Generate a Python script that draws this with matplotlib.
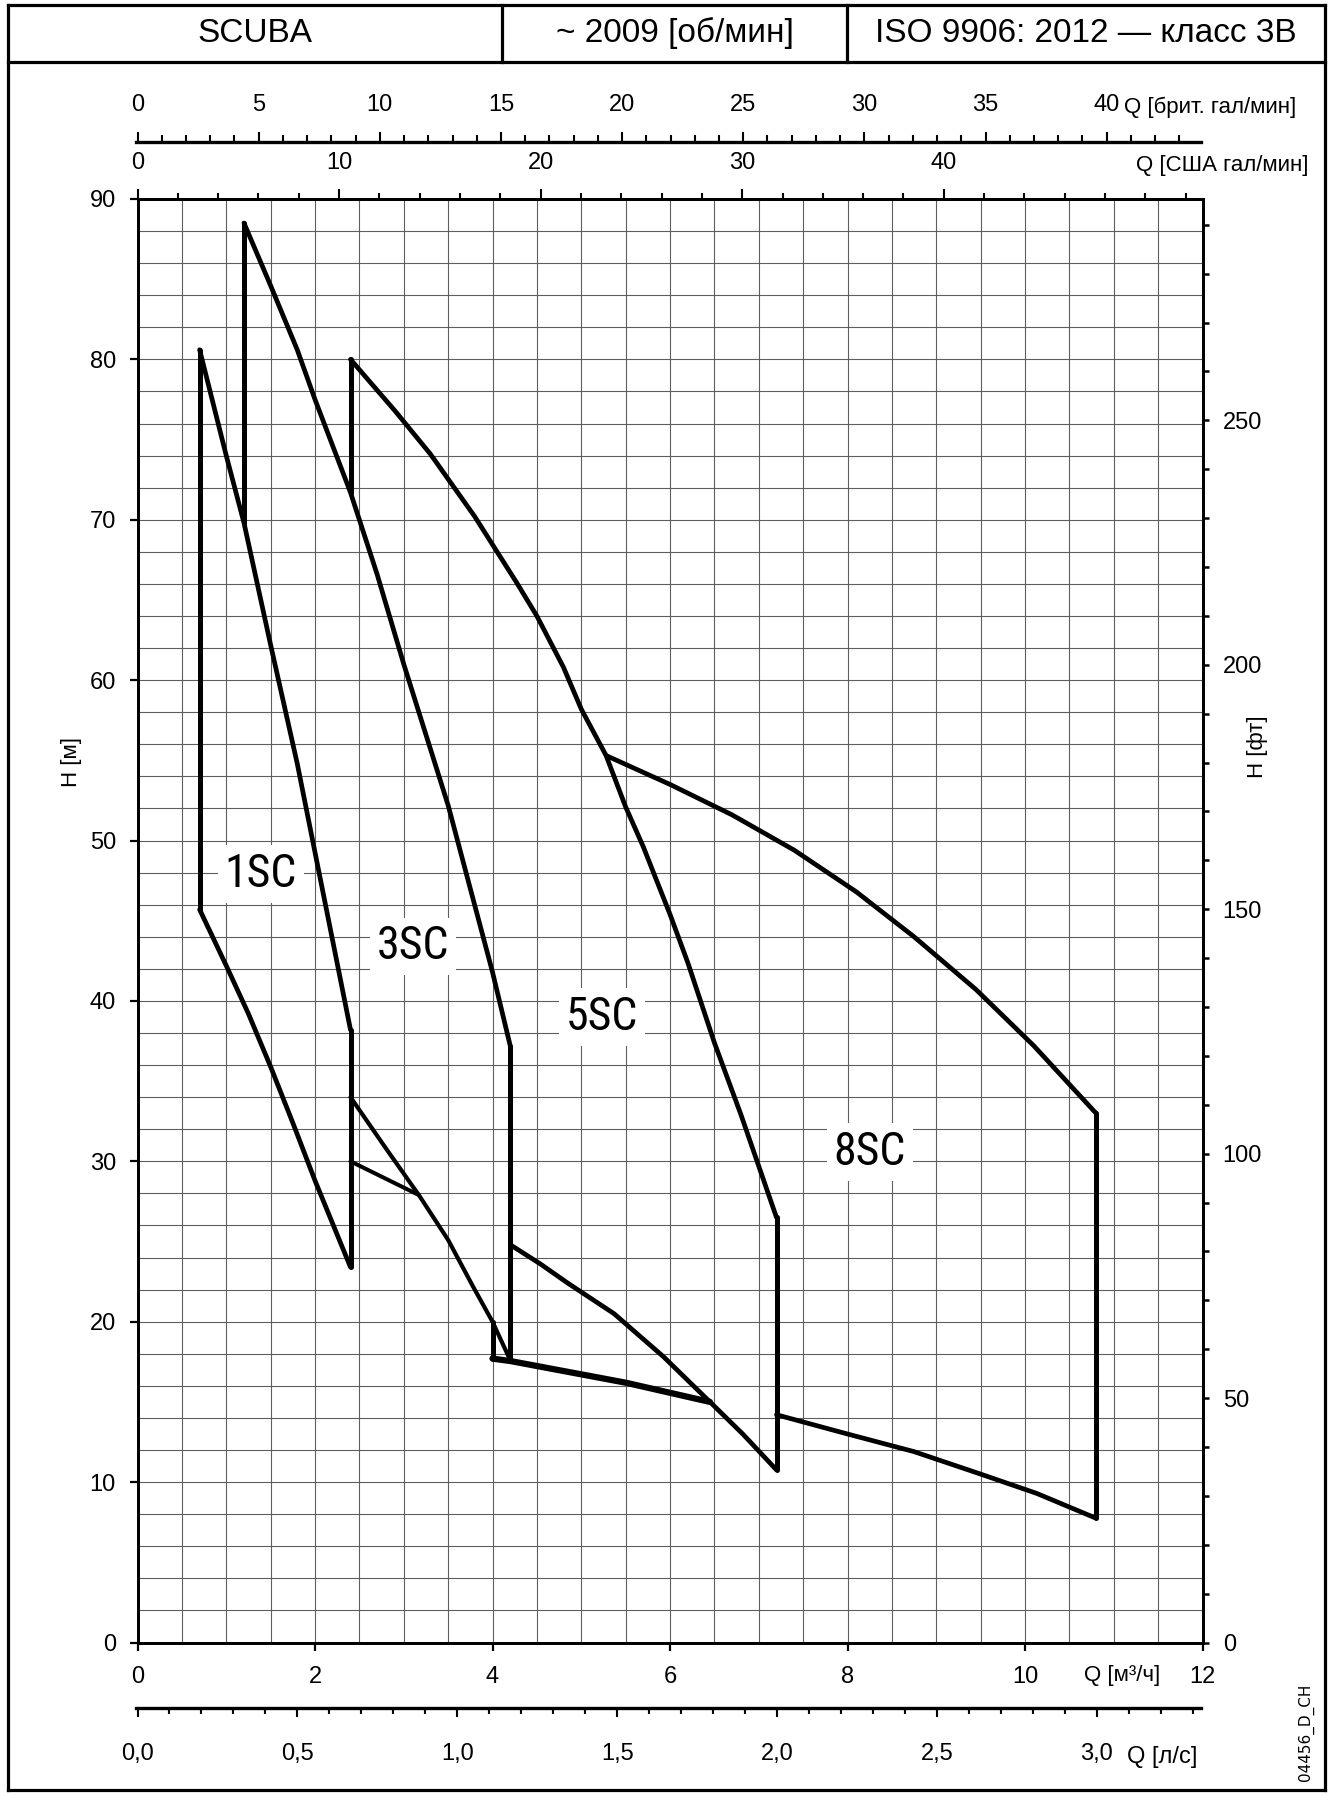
import numpy as np
import matplotlib
matplotlib.use("Agg")
import matplotlib.pyplot as plt
from matplotlib import font_manager as fm
from matplotlib.ticker import FixedLocator, FuncFormatter
from matplotlib.lines import Line2D

# ---------------- data ----------------
header_texts = ["SCUBA", "~ 2009 [об/мин]", "ISO 9906: 2012 — класс 3B"]

# curves: Q [m3/h], H [m]
q_1sc_max = [0.7, 1.0, 1.2, 1.5, 1.8, 2.1, 2.4]
h_1sc_max = [80.6, 74.0, 69.8, 62.2, 54.8, 46.5, 38.2]
q_1sc_min = [0.7, 1.0, 1.25, 1.5, 1.75, 2.0, 2.2, 2.4]
h_1sc_min = [45.7, 42.2, 39.2, 35.9, 32.4, 28.8, 26.1, 23.4]

q_3sc_max = [1.2, 1.5, 1.8, 2.0, 2.4, 2.7, 3.0, 3.5, 4.0, 4.2]
h_3sc_max = [88.5, 84.6, 80.6, 77.5, 71.7, 66.6, 61.0, 52.2, 41.8, 37.2]
q_3sc_min = [2.4, 2.8, 3.17, 3.5, 3.78, 4.0, 4.2]
h_3sc_min = [34.0, 30.8, 27.9, 25.1, 22.2, 20.0, 17.6]
q_3sc_low = [2.4, 3.17]
h_3sc_low = [30.0, 27.9]

q_5sc_max = [2.4, 2.9, 3.3, 3.8, 4.27, 4.5, 4.8, 5.0, 5.28, 5.5, 5.7, 6.0, 6.2, 6.5, 6.8, 7.2]
h_5sc_max = [80.0, 76.8, 74.1, 70.2, 66.1, 64.0, 60.8, 58.2, 55.3, 52.1, 49.6, 45.4, 42.4, 37.4, 32.9, 26.5]
q_5sc_min = [4.2, 4.54, 4.85, 5.37, 5.93, 6.45, 6.82, 7.2]
h_5sc_min = [24.8, 23.6, 22.4, 20.5, 17.8, 15.0, 13.0, 10.76]
q_5sc_low = [4.0, 4.2, 5.5, 6.45]
h_5sc_low = [17.7, 17.55, 16.2, 15.0]

q_8sc_max = [5.28, 6.0, 6.7, 7.4, 8.1, 8.75, 9.45, 10.1, 10.8]
h_8sc_max = [55.3, 53.5, 51.6, 49.4, 46.8, 44.0, 40.7, 37.2, 33.0]
q_8sc_min = [7.2, 8.0, 8.75, 9.5, 10.13, 10.8]
h_8sc_min = [14.2, 13.0, 11.9, 10.5, 9.3, 7.75]

# vertical limit lines: Q, H from, H to
vert_q = [0.7, 1.2, 2.4, 2.4, 4.0, 4.2, 7.2, 10.8]
vert_h_low = [45.7, 69.8, 23.4, 71.7, 17.7, 17.6, 10.76, 7.75]
vert_h_high = [80.6, 88.5, 38.2, 80.0, 20.0, 37.2, 26.5, 33.0]

label_names = ["1SC", "3SC", "5SC", "8SC"]
label_q = [1.39, 3.10, 5.23, 8.25]
label_h = [47.9, 43.4, 39.0, 30.6]

# axis ticks
q_m3h_ticks = [0, 2, 4, 6, 8, 10, 12]
h_m_ticks = [0, 10, 20, 30, 40, 50, 60, 70, 80, 90]
h_ft_ticks = [0, 50, 100, 150, 200, 250]
q_uk_ticks = [0, 5, 10, 15, 20, 25, 30, 35, 40]
q_us_ticks = [0, 10, 20, 30, 40]
q_ls_ticks = [0.0, 0.5, 1.0, 1.5, 2.0, 2.5, 3.0]

M3H_PER_UKGPM = 0.2727654
M3H_PER_USGPM = 0.2271247
M3H_PER_LS = 3.6
M_PER_FT = 0.3048

# ---------------- fonts ----------------
avail = {f.name for f in fm.fontManager.ttflist}
base = "Liberation Sans" if "Liberation Sans" in avail else "DejaVu Sans"
plt.rcParams["font.family"] = [base, "DejaVu Sans"]
narrow = None
for n in ["Liberation Sans Narrow", "DejaVu Sans Condensed", "Roboto Condensed", "Open Sans Condensed"]:
    if n in avail:
        narrow = n
        break
if narrow:
    lab_font = [narrow, base, "DejaVu Sans"]
    lab_size = 33
else:
    lab_font = [base, "DejaVu Sans"]
    lab_size = 29

W, H = 1330, 1796
fig = plt.figure(figsize=(W / 100, H / 100), dpi=100)
fig.patch.set_facecolor("white")


def fx(px):
    return px / W


def fy(py):
    return 1 - py / H


TICK_FS = 17
x0, x1 = 137.5, 1202.5
y_top, y_bot = 199.0, 1642.5

ax = fig.add_axes([fx(x0), fy(y_bot), (x1 - x0) / W, (y_bot - y_top) / H])
ax.set_xlim(0, 12)
ax.set_ylim(0, 90)
ax.xaxis.set_major_locator(FixedLocator(q_m3h_ticks))
ax.xaxis.set_minor_locator(FixedLocator(np.arange(0, 12.01, 0.5)))
ax.yaxis.set_major_locator(FixedLocator(h_m_ticks))
ax.yaxis.set_minor_locator(FixedLocator(np.arange(0, 90.01, 2)))
ax.grid(which="both", color="#5e5e5e", lw=0.8, zorder=0)
ax.set_axisbelow(True)
ax.tick_params(which="minor", length=0)
ax.tick_params(axis="x", which="major", direction="out", length=6, width=1.6,
               labelsize=TICK_FS, pad=11)
ax.tick_params(axis="y", which="major", direction="out", length=5.5, width=1.6,
               labelsize=TICK_FS, pad=10)
for s in ax.spines.values():
    s.set_linewidth(2.0)

# curves
LW = 3.4
curve_style = dict(color="black", solid_capstyle="round", solid_joinstyle="round", zorder=3)
ax.plot(q_1sc_max, h_1sc_max, lw=LW, **curve_style)
ax.plot(q_1sc_min, h_1sc_min, lw=LW, **curve_style)
ax.plot(q_3sc_max, h_3sc_max, lw=LW, **curve_style)
ax.plot(q_3sc_min, h_3sc_min, lw=3.0, **curve_style)
ax.plot(q_3sc_low, h_3sc_low, lw=2.9, **curve_style)
ax.plot(q_5sc_max, h_5sc_max, lw=LW, **curve_style)
ax.plot(q_5sc_min, h_5sc_min, lw=LW, **curve_style)
ax.plot(q_5sc_low, h_5sc_low, lw=4.5, **curve_style)
ax.plot(q_8sc_max, h_8sc_max, lw=LW, **curve_style)
ax.plot(q_8sc_min, h_8sc_min, lw=LW, **curve_style)
ax.vlines(vert_q, vert_h_low, vert_h_high, colors="black", lw=3.6, zorder=3,
          capstyle="round")

for name, q, h in zip(label_names, label_q, label_h):
    ax.text(q, h, name, fontsize=lab_size, family=lab_font, ha="center", va="center",
            zorder=4, bbox=dict(facecolor="white", edgecolor="none", pad=5))

# right axis (feet)
ax2 = ax.twinx()
ax2.set_ylim(0, 90 / M_PER_FT)
ax2.yaxis.set_major_locator(FixedLocator(h_ft_ticks))
ax2.yaxis.set_minor_locator(FixedLocator(np.arange(0, 291, 10)))
ax2.tick_params(which="both", direction="out", length=4.5, width=1.8)
ax2.tick_params(which="major", labelsize=TICK_FS, pad=10)
for s in ax2.spines.values():
    s.set_linewidth(2.0)

# top axis: US gal/min
secax = ax.secondary_xaxis("top", functions=(lambda q: q / M3H_PER_USGPM,
                                             lambda g: g * M3H_PER_USGPM))
secax.xaxis.set_major_locator(FixedLocator(q_us_ticks))
secax.xaxis.set_minor_locator(FixedLocator(np.arange(0, 53, 2)))
secax.tick_params(which="major", length=7, width=1.5, labelsize=TICK_FS, pad=11)
secax.tick_params(which="minor", length=4.5, width=1.5)
secax.spines["top"].set_linewidth(2.0)

# brit gal/min axis
yb = 141.7
axb = fig.add_axes([fx(x0 - 1.5), fy(yb), (x1 - x0) / W, 0.00001])
axb.set_xlim(-1.5 / 88.75 / M3H_PER_UKGPM, 12 / M3H_PER_UKGPM - 2.5 / 88.75 / M3H_PER_UKGPM)
axb.patch.set_visible(False)
for k in ["left", "right", "bottom"]:
    axb.spines[k].set_visible(False)
axb.spines["top"].set_linewidth(2.4)
axb.yaxis.set_visible(False)
axb.xaxis.tick_top()
axb.xaxis.set_major_locator(FixedLocator(q_uk_ticks))
axb.xaxis.set_minor_locator(FixedLocator(np.arange(0, 44, 1)))
axb.tick_params(which="major", direction="out", length=7.5, width=1.5, labelsize=TICK_FS, pad=11)
axb.tick_params(which="minor", direction="out", length=5, width=1.5)

# l/s axis
yl = 1708.0
axl = fig.add_axes([fx(x0 - 1.5), fy(yl), (x1 - x0) / W, 0.00001])
axl.set_xlim(-1.5 / 88.75 / M3H_PER_LS, 12 / M3H_PER_LS - 2.5 / 88.75 / M3H_PER_LS)
axl.patch.set_visible(False)
for k in ["left", "right", "top"]:
    axl.spines[k].set_visible(False)
axl.spines["bottom"].set_linewidth(2.4)
axl.yaxis.set_visible(False)
axl.xaxis.set_major_locator(FixedLocator(q_ls_ticks))
axl.xaxis.set_minor_locator(FixedLocator(np.arange(0, 3.31, 0.1)))
axl.xaxis.set_major_formatter(FuncFormatter(lambda v, p: f"{v:.1f}".replace(".", ",")))
axl.tick_params(which="major", direction="out", length=6.5, width=1.5, labelsize=TICK_FS, pad=19)
axl.tick_params(which="minor", direction="out", length=4.5, width=1.5)

# unit labels
UFS = 16
fig.text(fx(1124), fy(107), "Q [брит. гал/мин]", fontsize=UFS, ha="left", va="center")
fig.text(fx(1308), fy(166), "Q [США гал/мин]", fontsize=UFS, ha="right", va="center")
fig.text(fx(1122), fy(1675), "Q [м³/ч]", fontsize=UFS, ha="center", va="center")
fig.text(fx(1162), fy(1757), "Q [л/с]", fontsize=UFS + 1, ha="center", va="center")
fig.text(fx(71), fy(762), "H [м]", fontsize=UFS, ha="center", va="center", rotation=90)
fig.text(fx(1257), fy(747), "H [фт]", fontsize=UFS, ha="center", va="center", rotation=90)
fig.text(fx(1306), fy(1732), "04456_D_CH", fontsize=11, ha="center", va="center",
         rotation=90, family=["DejaVu Sans"])

# frame and header
frame_kw = dict(color="black", lw=2.3, transform=fig.transFigure, solid_capstyle="projecting")
L, R, T, B = 8, 1325, 5, 1790
hb = 61.5
for xs, ys in [((L, R), (T, T)), ((L, R), (B, B)), ((L, L), (T, B)), ((R, R), (T, B)),
               ((L, R), (hb, hb)), ((502, 502), (T, hb)), ((847, 847), (T, hb))]:
    fig.add_artist(Line2D([fx(v) for v in xs], [fy(v) for v in ys], **frame_kw))

hx = [(L + 502) / 2, (502 + 847) / 2, (847 + R) / 2]
for t, x in zip(header_texts, hx):
    fig.text(fx(x), fy(33.5), t, fontsize=24, ha="center", va="center")

fig.savefig("out.png", dpi=100, facecolor="white")
